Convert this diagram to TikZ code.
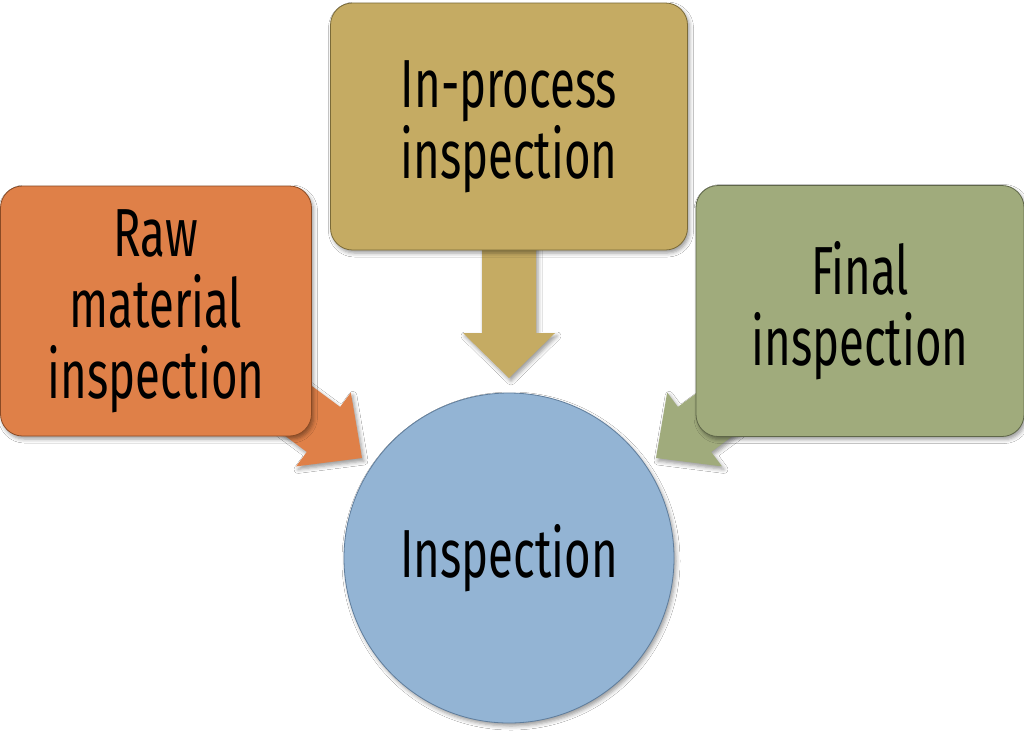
\documentclass[tikz,border=0pt]{standalone}
\usepackage{fontspec}
\newfontfamily\agency[FakeStretch=0.67]{Fira Sans}
\usetikzlibrary{calc,shadows.blur}
\definecolor{orangefill}{HTML}{DF8048}
\definecolor{orangeline}{HTML}{8A4A24}
\definecolor{goldfill}{HTML}{C5AB63}
\definecolor{goldline}{HTML}{7A6A38}
\definecolor{greenfill}{HTML}{A0AB7C}
\definecolor{greenline}{HTML}{5E6648}
\definecolor{bluefill}{HTML}{93B4D4}
\definecolor{blueline}{HTML}{5F7D9C}
\tikzset{
  softshadow/.style={blur shadow={shadow xshift=2pt,shadow yshift=-3pt,shadow blur radius=4pt,shadow opacity=40}},
  boxnode/.style={rectangle,rounded corners=22pt,line width=0.8pt,softshadow,align=center,
    font=\agency\fontsize{68}{71}\selectfont,inner sep=0pt},
  circnode/.style={circle,line width=0.8pt,softshadow,font=\agency\fontsize{68}{71}\selectfont,inner sep=0pt},
}
% \blockarrow{start}{tip}{shaft half}{head half}{head length}{colour}
\newcommand{\blockarrow}[6]{%
  \coordinate (ba-H) at ($(#2)!#5!(#1)$);
  \fill[#6,softshadow]
    ($(#1)!#3!90:(#2)$) -- ($(ba-H)!#3!90:(#2)$) -- ($(ba-H)!#4!90:(#2)$) -- (#2)
    -- ($(ba-H)!#4!-90:(#2)$) -- ($(ba-H)!#3!-90:(#2)$) -- ($(#1)!#3!-90:(#2)$) -- cycle;
}
\begin{document}
\begin{tikzpicture}[x=1pt,y=-1pt]
\useasboundingbox[fill=white] (0,0) rectangle (1024,737);
% arrows (behind boxes)
\coordinate (oa-s) at (250,375);
\coordinate (oa-t) at (362,458);
\coordinate (ga-s) at (768,375);
\coordinate (ga-t) at (656,458);
\coordinate (da-s) at (509,240);
\coordinate (da-t) at (509,378);
\blockarrow{oa-s}{oa-t}{28pt}{46pt}{48pt}{orangefill}
\blockarrow{ga-s}{ga-t}{28pt}{46pt}{48pt}{greenfill}
\blockarrow{da-s}{da-t}{27pt}{46pt}{45pt}{goldfill}
% boxes
\node[boxnode,fill=orangefill,draw=orangeline,minimum width=311pt,minimum height=250pt] (raw) at (156,311)
  {Raw\\material\\inspection};
\node[boxnode,fill=goldfill,draw=goldline,minimum width=357pt,minimum height=247pt] (inproc) at (509,126.5)
  {In-process\\inspection};
\node[boxnode,fill=greenfill,draw=greenline,minimum width=328pt,minimum height=251pt] (final) at (860,311)
  {Final\\inspection};
\node[circnode,fill=bluefill,draw=blueline,minimum size=330pt] (insp) at (509,558) {Inspection};
\end{tikzpicture}
\end{document}
